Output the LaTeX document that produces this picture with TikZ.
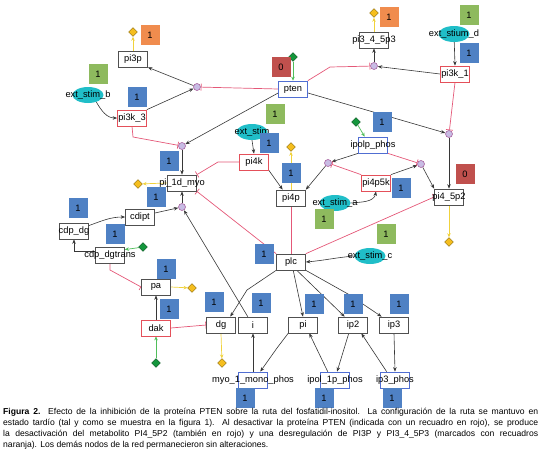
\documentclass[tikz,border=0pt]{standalone}
\usepackage{fontspec}
\setmainfont{Liberation Sans}
\usetikzlibrary{arrows.meta,shapes.geometric}
\pgfdeclarelayer{bg}
\pgfsetlayers{bg,main}
\definecolor{sqblue}{RGB}{79,129,196}
\definecolor{sqgreen}{RGB}{142,186,94}
\definecolor{sqorange}{RGB}{240,140,78}
\definecolor{sqred}{RGB}{192,80,77}
\definecolor{ellcyan}{RGB}{32,190,200}
\definecolor{inhred}{RGB}{228,88,120}
\definecolor{boxred}{RGB}{228,80,90}
\definecolor{boxblue}{RGB}{80,110,210}
\definecolor{boxgray}{RGB}{80,80,80}
\definecolor{arrgray}{RGB}{55,55,55}
\definecolor{circfill}{RGB}{200,188,228}
\definecolor{circdraw}{RGB}{170,100,160}
\definecolor{ydia}{RGB}{245,190,30}
\definecolor{yline}{RGB}{240,210,60}
\definecolor{gdia}{RGB}{20,150,60}
\definecolor{gline}{RGB}{80,190,90}
\tikzset{
  lbl/.style={font=\fontsize{9.3}{10}\selectfont},
  box/.style={lbl, rectangle, draw=boxgray, fill=white, line width=0.7pt, minimum width=29pt, minimum height=16pt, inner sep=0pt},
  rbox/.style={box, draw=boxred},
  bbox/.style={box, draw=boxblue},
  ell/.style={lbl, ellipse, fill=ellcyan, minimum width=31pt, minimum height=16pt, inner sep=0pt},
  circ/.style={circle, fill=circfill, draw=circdraw, line width=0.6pt, minimum size=7pt, inner sep=0pt},
  ydiam/.style={diamond, fill=ydia, draw=ydia!55!black, line width=0.4pt, minimum width=9pt, minimum height=9pt, inner sep=0pt},
  gdiam/.style={diamond, fill=gdia, draw=gdia!55!black, line width=0.4pt, minimum width=9pt, minimum height=9pt, inner sep=0pt},
  sq/.style={lbl, rectangle, minimum width=19pt, minimum height=20pt, inner sep=0pt},
  bsq/.style={sq, fill=sqblue},
  gsq/.style={sq, fill=sqgreen},
  osq/.style={sq, fill=sqorange},
  rsq/.style={sq, fill=sqred},
  arr/.style={draw=arrgray, line width=0.6pt, -{Stealth[length=4.5pt,width=3.5pt]}},
  inh/.style={draw=inhred, line width=0.7pt, -{Bar[width=7pt]}},
  yarr/.style={draw=yline, line width=0.7pt, -{Stealth[length=4pt,width=3.5pt]}},
  garr/.style={draw=gline, line width=0.7pt, -{Stealth[length=4pt,width=3.5pt]}},
}
\newcommand{\zt}[1]{\makebox[0pt]{#1}}
\begin{document}
\begin{tikzpicture}[x=1pt,y=-1pt]
\useasboundingbox (0,0) rectangle (541,464);
% boxes
\node[box]  (pi3p)   at (133,59)  {\zt{pi3p}};
\node[rbox] (pi3k3)  at (132,118) {\zt{pi3k\_3}};
\node[bbox] (pten)   at (293,89)  {\zt{pten}};
\node[box]  (pi345)  at (374,40)  {\zt{pi3\_4\_5p3}};
\node[rbox] (pi3k1)  at (455,74)  {\zt{pi3k\_1}};
\node[box]  (pi1d)   at (182,183) {\zt{pi\_1d\_myo}};
\node[rbox] (pi4k)   at (254,162) {\zt{pi4k}};
\node[box]  (pi4p)   at (291,198) {\zt{pi4p}};
\node[bbox] (ipolp)  at (373,145) {\zt{ipolp\_phos}};
\node[rbox] (pi4p5k) at (376,183) {\zt{pi4p5k}};
\node[box]  (pi45)   at (449,197) {\zt{pi4\_5p2}};
\node[box]  (cdipt)  at (140,217) {\zt{cdipt}};
\node[box]  (cdpdg)  at (74,231)  {\zt{cdp\_dg}};
\node[box]  (cdpdgt) at (110,255) {\zt{cdp\_dgtrans}};
\node[box]  (plc)    at (291,262) {\zt{plc}};
\node[box]  (pa)     at (156,287) {\zt{pa}};
\node[rbox] (dak)    at (156,328) {\zt{dak}};
\node[box]  (dg)     at (221,325) {\zt{dg}};
\node[box]  (i)      at (253,325) {\zt{i}};
\node[box]  (pi)     at (303,325) {\zt{pi}};
\node[box]  (ip2)    at (353,325) {\zt{ip2}};
\node[box]  (ip3)    at (394,325) {\zt{ip3}};
\node[bbox] (myo)    at (253,380) {\zt{myo\_1\_mono\_phos}};
\node[bbox] (ipol)   at (335,380) {\zt{ipol\_1p\_phos}};
\node[bbox] (ip3ph)  at (395,380) {\zt{ip3\_phos}};
% external stimuli
\node[ell] (esb) at (88,95)   {\zt{ext\_stim\_b}};
\node[ell] (esd) at (454,34)  {\zt{ext\_stium\_d}};
\node[ell] (es)  at (252,132) {\zt{ext\_stim}};
\node[ell] (esa) at (335,203) {\zt{ext\_stim\_a}};
\node[ell] (esc) at (370,256) {\zt{ext\_stim\_c}};
% reaction circles
\node[circ] (c1) at (197,87)  {};
\node[circ] (c2) at (374,66)  {};
\node[circ] (c3) at (182,146) {};
\node[circ] (c4) at (182,207) {};
\node[circ] (c5) at (449,134) {};
\node[circ] (c6) at (328,163) {};
\node[circ] (c7) at (421,164) {};
% diamonds
\node[ydiam] (y1) at (133,32)  {};
\node[ydiam] (y2) at (374,13)  {};
\node[ydiam] (y3) at (138,184) {};
\node[ydiam] (y4) at (291,147) {};
\node[ydiam] (y5) at (449,242) {};
\node[ydiam] (y6) at (192,288) {};
\node[ydiam] (y7) at (222,363) {};
\node[gdiam] (g1) at (293,57)  {};
\node[gdiam] (g2) at (356,122) {};
\node[gdiam] (g3) at (143,247) {};
\node[gdiam] (g4) at (156,363) {};
% connectors
\begin{pgfonlayer}{bg}
\draw[arr] (esb.-40) to[out=-60,in=180] (pi3k3.west);
\draw[arr] (pi3k3.north east) -- (c1);
\draw[arr] (c1) -- (pi3p.south east);
\draw[arr] (esd) -- (pi3k1.north);
\draw[arr] (pi3k1.west) -- (c2);
\draw[arr] (c2) -- (pi345.south);
\draw[arr] (pten.195) -- (c3);
\draw[arr] (pten.-15) -- (c5);
\draw[arr] (c5) -- (pi45.north);
\draw[arr] (c3) -- (pi1d.north);
\draw[arr] (c4) -- (pi1d.south);
\draw[arr] (cdipt.15) -- (c4);
\draw[arr] (i.122) -- (c4);
\draw[arr] (cdpdg.20) to[out=20,in=180] (cdipt.west);
\draw[arr] (cdpdgt.165) -| (cdpdg.south);
\draw[arr] (pi4k.south east) -- (pi4p.135);
\draw[arr] (es.south) -- (pi4k.north);
\draw[arr] (c6) -- (pi4p.north east);
\draw[arr] (ipolp.south west) -- (c6);
\draw[arr] (pi4p5k.north east) -- (c7);
\draw[arr] (c7) -- (pi45.north west);
\draw[arr] (esa.east) to[out=5,in=-100] (pi4p5k.south);
\draw[arr] (esc.west) to[out=185,in=5] (plc.east);
\draw[arr] (plc.south west) -- (247,290) -- (dg.42);
\draw[arr] (plc.-75) -- (pi.north);
\draw[arr] (plc.-55) -- (ip2.135);
\draw[arr] (plc.south east) -- (348,294) -- (ip3.146);
\draw[arr] (pi.south west) -- (277,348) -- (myo.49);
\draw[arr] (myo.north) -- (i.south);
\draw[arr] (ipol.131) -- (pi.-53);
\draw[arr] (ip2.-117) -- (ipol.76);
\draw[arr] (ip3ph.135) -- (ip2.-45);
\draw[arr] (ip3.south) -- (ip3ph.north);
\draw[arr] (dak.north) -- (pa.south);
% inhibitions
\draw[inh] (pten.west) -- (c1);
\draw[inh] (pten.north east) -- (330,67) -- (c2);
\draw[inh] (pi3k1.south) -- (c5);
\draw[inh] (pi3k3.south) -- (133,137) -- (c3);
\draw[inh] (pi4k.west) -- (218,162) -- (pi1d.north east);
\draw[inh] (plc.north west) -- (pi1d.south east);
\draw[inh] (plc.north) -- (pi4p.south);
\draw[inh] (plc.north east) -- (pi45.west);
\draw[inh] (ipolp.south east) -- (c7);
\draw[inh] (pi4p5k.north west) -- (c6);
\draw[inh] (cdpdgt.south) -- (110,270) -- (pa.west);
\draw[inh] (dak.east) -- (dg.west);
% outputs / inputs
\draw[yarr] (pi3p.north) -- (y1);
\draw[yarr] (pi345.north) -- (y2);
\draw[yarr] (pi1d.west) -- (y3);
\draw[yarr] (pi4p.north) -- (y4);
\draw[yarr] (pi45.south) -- (y5);
\draw[yarr] (pa.east) -- (y6);
\draw[yarr] (dg.south) -- (y7);
\draw[garr] (g1) -- (pten.north);
\draw[garr] (g2) -- (ipolp.135);
\draw[garr] (g3) -- (cdpdgt.20);
\draw[garr] (g4) -- (dak.south);
\end{pgfonlayer}
% value squares
\node[bsq] (s1)  at (137,97)  {1};
\node[bsq] (s2)  at (169,161) {1};
\node[bsq] (s3)  at (156,197) {1};
\node[bsq] (s4)  at (78,208)  {1};
\node[bsq] (s5)  at (115,234) {1};
\node[bsq] (s6)  at (166,269) {1};
\node[bsq] (s7)  at (169,309) {1};
\node[bsq] (s8)  at (214,302) {1};
\node[bsq] (s9)  at (261,303) {1};
\node[bsq] (s10) at (314,304) {1};
\node[bsq] (s11) at (353,304) {1};
\node[bsq] (s12) at (399,304) {1};
\node[bsq] (s13) at (245,398) {1};
\node[bsq] (s14) at (324,398) {1};
\node[bsq] (s15) at (392,398) {1};
\node[bsq] (s16) at (264,254) {1};
\node[bsq] (s17) at (291,173) {1};
\node[bsq] (s18) at (269,143) {1};
\node[bsq] (s19) at (401,188) {1};
\node[bsq] (s20) at (382,122) {1};
\node[bsq] (s21) at (469,53)  {1};
\node[gsq] (s22) at (98,74)   {1};
\node[gsq] (s23) at (469,15)  {1};
\node[gsq] (s24) at (275,114) {1};
\node[gsq] (s25) at (324,219) {1};
\node[gsq] (s26) at (386,234) {1};
\node[osq] (s27) at (150,35)  {1};
\node[osq] (s28) at (389,17)  {1};
\node[rsq] (s29) at (281,67)  {0};
\node[rsq] (s30) at (465,174) {0};
% caption
\node[anchor=north west, inner sep=0pt, text width=535pt, align=justify,
      font=\fontsize{8.6}{11}\selectfont] (cap) at (3,408)
{\textbf{Figura 2.} Efecto de la inhibición de la proteína PTEN sobre la ruta del fosfatidil-inositol. La configuración de la ruta se mantuvo en\linebreak
estado tardío (tal y como se muestra en la figura 1). Al desactivar la proteína PTEN (indicada con un recuadro en rojo), se produce\linebreak
la desactivación del metabolito PI4\_5P2 (también en rojo) y una desregulación de PI3P y PI3\_4\_5P3 (marcados con recuadros\linebreak
naranja). Los demás nodos de la red permanecieron sin alteraciones.};
\end{tikzpicture}
\end{document}
